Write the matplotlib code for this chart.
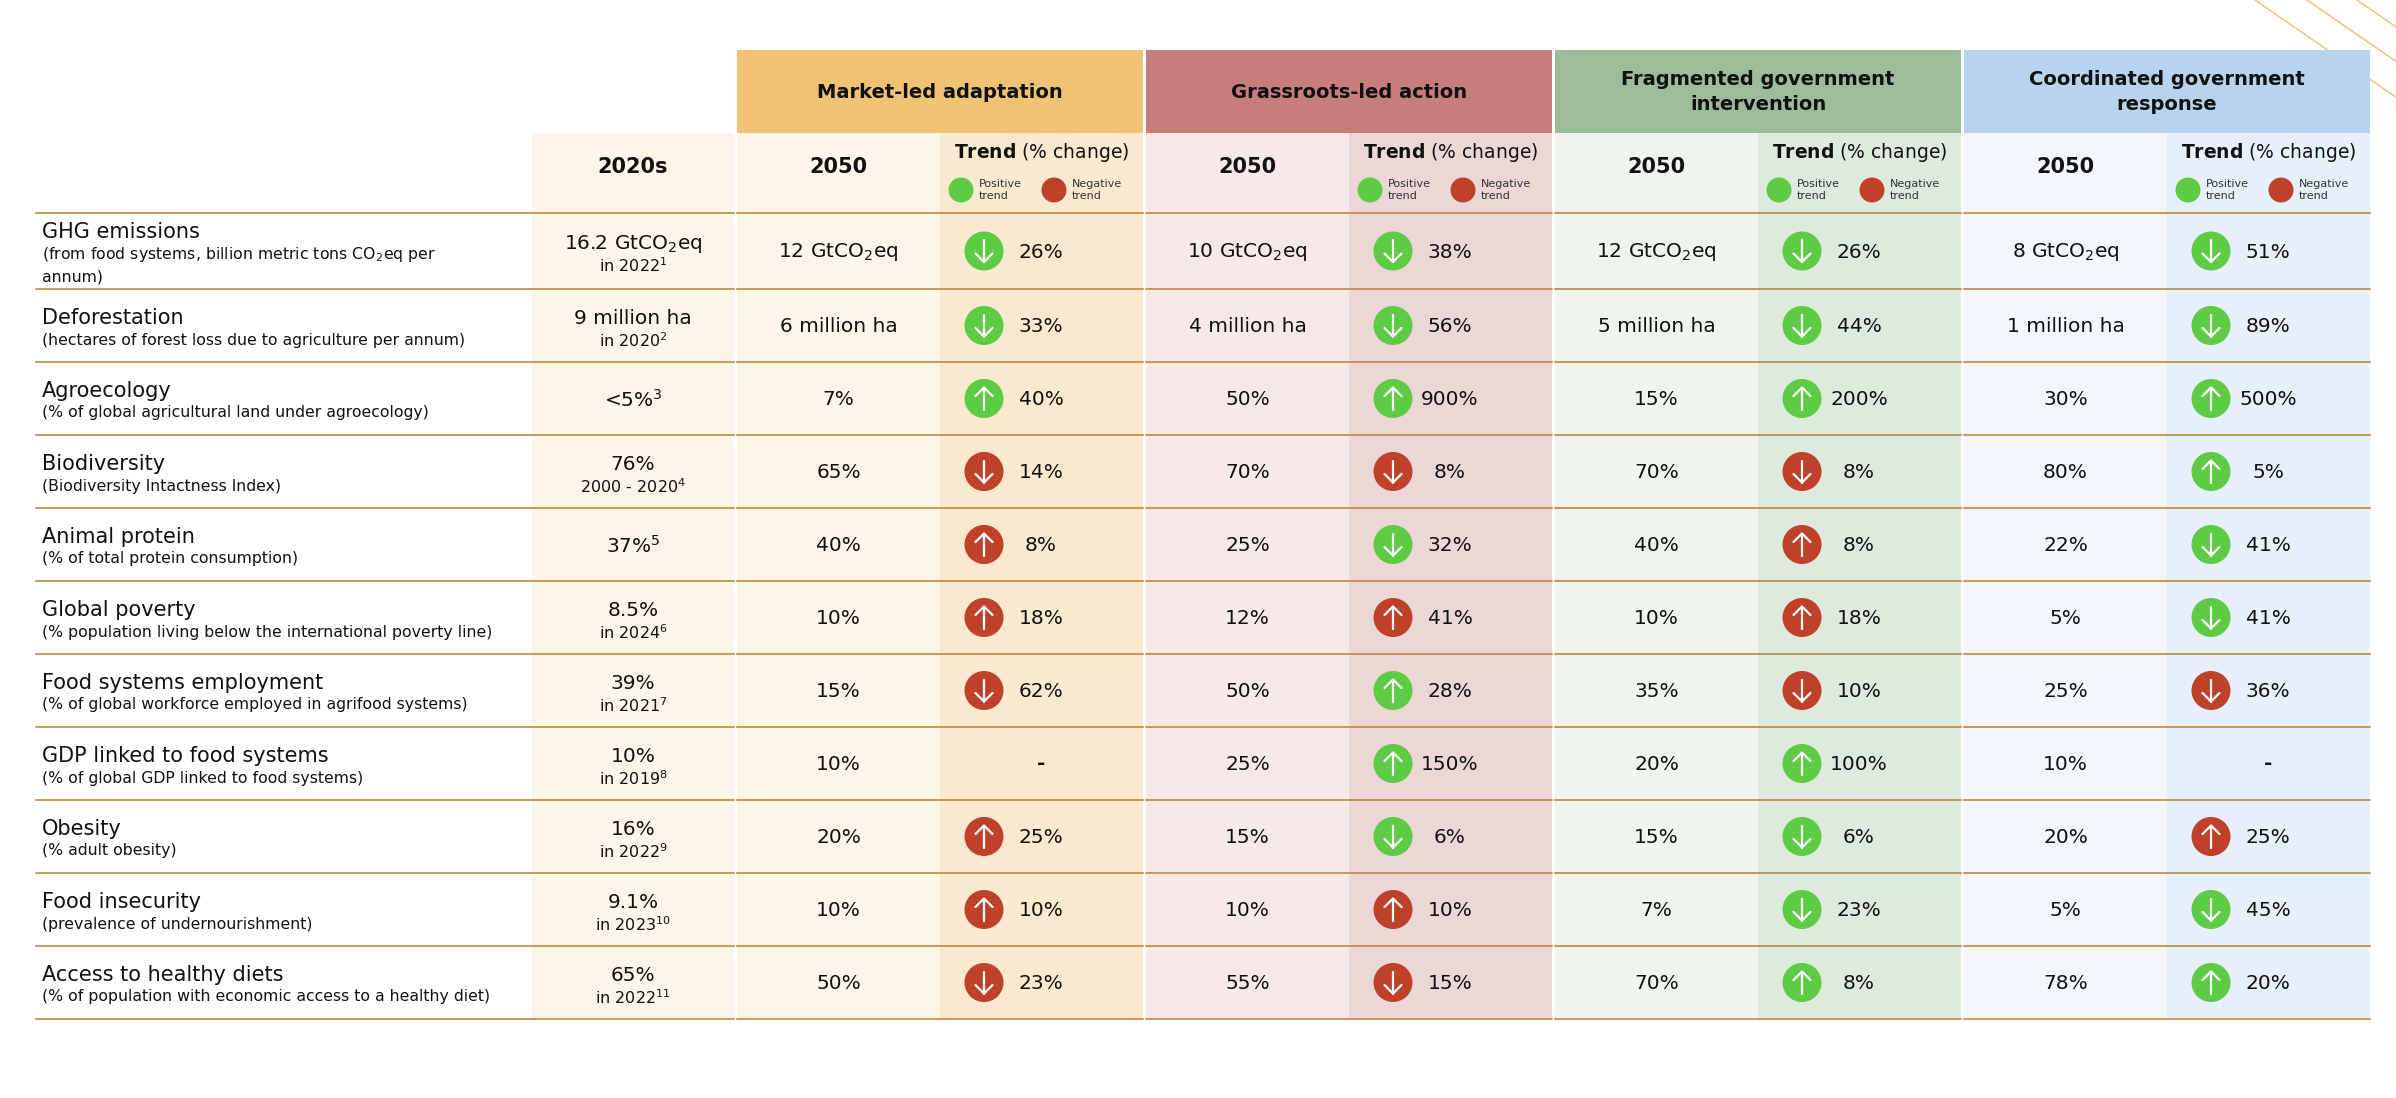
import matplotlib
matplotlib.use("Agg")
import matplotlib.pyplot as plt
from matplotlib.patches import Rectangle, Circle

plt.rcParams['font.family'] = ['DejaVu Sans']
plt.rcParams['mathtext.fontset'] = 'dejavusans'

# ---- data ----
indicators = ["GHG emissions", "Deforestation", "Agroecology", "Biodiversity",
              "Animal protein", "Global poverty", "Food systems employment",
              "GDP linked to food systems", "Obesity", "Food insecurity",
              "Access to healthy diets"]
descriptions = [
    ["(from food systems, billion metric tons CO$_2$eq per", "annum)"],
    ["(hectares of forest loss due to agriculture per annum)"],
    ["(% of global agricultural land under agroecology)"],
    ["(Biodiversity Intactness Index)"],
    ["(% of total protein consumption)"],
    ["(% population living below the international poverty line)"],
    ["(% of global workforce employed in agrifood systems)"],
    ["(% of global GDP linked to food systems)"],
    ["(% adult obesity)"],
    ["(prevalence of undernourishment)"],
    ["(% of population with economic access to a healthy diet)"],
]
baseline = ["16.2 GtCO$_2$eq", "9 million ha", "<5%$^{3}$", "76%", "37%$^{5}$",
            "8.5%", "39%", "10%", "16%", "9.1%", "65%"]
baseline_note = ["in 2022$^{1}$", "in 2020$^{2}$", "", "2000 - 2020$^{4}$", "",
                 "in 2024$^{6}$", "in 2021$^{7}$", "in 2019$^{8}$", "in 2022$^{9}$",
                 "in 2023$^{10}$", "in 2022$^{11}$"]

scenario_names = ["Market-led adaptation", "Grassroots-led action",
                  "Fragmented government\nintervention",
                  "Coordinated government\nresponse"]

market_2050 = ["12 GtCO$_2$eq", "6 million ha", "7%", "65%", "40%", "10%", "15%",
               "10%", "20%", "10%", "50%"]
market_change = [-26, -33, 40, -14, 8, 18, -62, None, 25, 10, -23]
market_good = [1, 1, 1, 0, 0, 0, 0, None, 0, 0, 0]

grassroots_2050 = ["10 GtCO$_2$eq", "4 million ha", "50%", "70%", "25%", "12%",
                   "50%", "25%", "15%", "10%", "55%"]
grassroots_change = [-38, -56, 900, -8, -32, 41, 28, 150, -6, 10, -15]
grassroots_good = [1, 1, 1, 0, 1, 0, 1, 1, 1, 0, 0]

fragmented_2050 = ["12 GtCO$_2$eq", "5 million ha", "15%", "70%", "40%", "10%",
                   "35%", "20%", "15%", "7%", "70%"]
fragmented_change = [-26, -44, 200, -8, 8, 18, -10, 100, -6, -23, 8]
fragmented_good = [1, 1, 1, 0, 0, 0, 0, 1, 1, 1, 1]

coordinated_2050 = ["8 GtCO$_2$eq", "1 million ha", "30%", "80%", "22%", "5%",
                    "25%", "10%", "20%", "5%", "78%"]
coordinated_change = [-51, -89, 500, 5, -41, -41, -36, None, 25, -45, 20]
coordinated_good = [1, 1, 1, 1, 1, 1, 0, None, 0, 1, 1]

values_2050 = [market_2050, grassroots_2050, fragmented_2050, coordinated_2050]
changes = [market_change, grassroots_change, fragmented_change, coordinated_change]
good = [market_good, grassroots_good, fragmented_good, coordinated_good]

# ---- styles ----
header_colors = ["#F0C374", "#C77D7B", "#9DBC99", "#B8D3EE"]
light_colors = ["#FDF5E7", "#F7E9E9", "#EFF4EE", "#F3F7FC"]
trend_colors = ["#FAE9CE", "#EDD6D6", "#DFEADF", "#E7F0FA"]
base_bg = "#FDF5E7"
line_col = "#B8802F"
green = "#5DCB44"
red = "#BF4129"
ink = "#111111"

W, H = 2396, 1098
head_top, head_bot, sub_bot = 50, 133, 213
row_h = [76] + [73] * 10
row_edges = [sub_bot]
for h in row_h:
    row_edges.append(row_edges[-1] + h)
left = 36
base_x0, base_x1 = 532, 734
block_x0 = 737
block_w = 406
gap = 3
sub_w = block_w / 2

fig = plt.figure(figsize=(W / 100, H / 100), dpi=100)
ax = fig.add_axes([0, 0, 1, 1])
ax.set_xlim(0, W)
ax.set_ylim(H, 0)
ax.axis('off')

# decorative lines top right
for x0 in [2255, 2307, 2357]:
    ax.plot([x0, x0 + 200], [0, 200 * 0.69], color="#EBC47C", lw=1.1, zorder=1)

bottom = row_edges[-1]

# 2020s column
ax.add_patch(Rectangle((base_x0, head_bot), base_x1 - base_x0, bottom - head_bot,
                       color=base_bg, lw=0, zorder=0))
ax.text((base_x0 + base_x1) / 2, 167, "2020s", ha='center', va='center',
        fontsize=15, fontweight='bold', color=ink, zorder=5)

# horizontal rule segments
segments = [(left, base_x1)]
for k in range(4):
    x0 = block_x0 + k * (block_w + gap)
    segments.append((x0, x0 + block_w))

for k in range(4):
    x0 = block_x0 + k * (block_w + gap)
    ax.add_patch(Rectangle((x0, head_top), block_w, head_bot - head_top,
                           color=header_colors[k], lw=0, zorder=2))
    ax.add_patch(Rectangle((x0, head_bot), sub_w, bottom - head_bot,
                           color=light_colors[k], lw=0, zorder=0))
    ax.add_patch(Rectangle((x0 + sub_w, head_bot), sub_w, bottom - head_bot,
                           color=trend_colors[k], lw=0, zorder=0))
    ax.text(x0 + block_w / 2, 92, scenario_names[k], ha='center', va='center',
            fontsize=14, fontweight='bold', color=ink, linespacing=1.45, zorder=5)
    ax.text(x0 + sub_w / 2, 167, "2050", ha='center', va='center',
            fontsize=15, fontweight='bold', color=ink, zorder=5)
    tx = x0 + sub_w
    ax.text(tx + sub_w / 2, 153, r"$\mathbf{Trend}$ (% change)", ha='center',
            va='center', fontsize=13.5, color=ink, zorder=5)
    for off, col, word in [(21, green, "Positive"), (114, red, "Negative")]:
        ax.add_patch(Circle((tx + off, 190), 12.5, color=col, lw=0, zorder=5))
        ax.text(tx + off + 18, 184, word, ha='left', va='center', fontsize=8,
                color="#333333", zorder=5)
        ax.text(tx + off + 18, 196, "trend", ha='left', va='center', fontsize=8,
                color="#333333", zorder=5)

for y in row_edges:
    for a, b in segments:
        ax.plot([a, b], [y, y], color=line_col, lw=1.1, zorder=3)

# rows
for i, name in enumerate(indicators):
    top = row_edges[i]
    cy = top + row_h[i] / 2
    lines = [name] + descriptions[i]
    n = len(lines)
    sp = 23 if n > 2 else 22
    y0 = cy + 3.5 - (n - 1) * sp / 2
    for j, t in enumerate(lines):
        ax.text(42, y0 + j * sp, t, ha='left', va='center',
                fontsize=15 if j == 0 else 11.3, color=ink, zorder=5)

    bx = (base_x0 + base_x1) / 2
    if baseline_note[i]:
        ax.text(bx, cy - 7, baseline[i], ha='center', va='center', fontsize=14.5,
                color=ink, zorder=5)
        ax.text(bx, cy + 15, baseline_note[i], ha='center', va='center', fontsize=11.5,
                color=ink, zorder=5)
    else:
        ax.text(bx, cy + 1, baseline[i], ha='center', va='center', fontsize=14.5,
                color=ink, zorder=5)

    for k in range(4):
        x0 = block_x0 + k * (block_w + gap)
        ax.text(x0 + sub_w / 2, cy + 1, values_2050[k][i], ha='center', va='center',
                fontsize=14.5, color=ink, zorder=5)
        tx = x0 + sub_w
        c = changes[k][i]
        if c is None:
            ax.text(tx + 101, cy, "-", ha='center', va='center', fontsize=14.5,
                    fontweight='bold', color=ink, zorder=5)
            continue
        cx = tx + 44
        ax.add_patch(Circle((cx, cy), 19.5, color=green if good[k][i] else red,
                            lw=0, zorder=5))
        if c > 0:
            tip = cy - 11
            ax.plot([cx, cx], [tip, cy + 11], color='white', lw=1.6, zorder=6,
                    solid_capstyle='round')
            ax.plot([cx - 8.5, cx, cx + 8.5], [tip + 8.5, tip, tip + 8.5],
                    color='white', lw=1.6, zorder=6, solid_capstyle='round')
        else:
            tip = cy + 11
            ax.plot([cx, cx], [cy - 11, tip], color='white', lw=1.6, zorder=6,
                    solid_capstyle='round')
            ax.plot([cx - 8.5, cx, cx + 8.5], [tip - 8.5, tip, tip - 8.5],
                    color='white', lw=1.6, zorder=6, solid_capstyle='round')
        ax.text(tx + 101, cy + 1, f"{abs(c)}%", ha='center', va='center',
                fontsize=14.5, color=ink, zorder=5)

fig.savefig("out.png", dpi=100, facecolor='white')
